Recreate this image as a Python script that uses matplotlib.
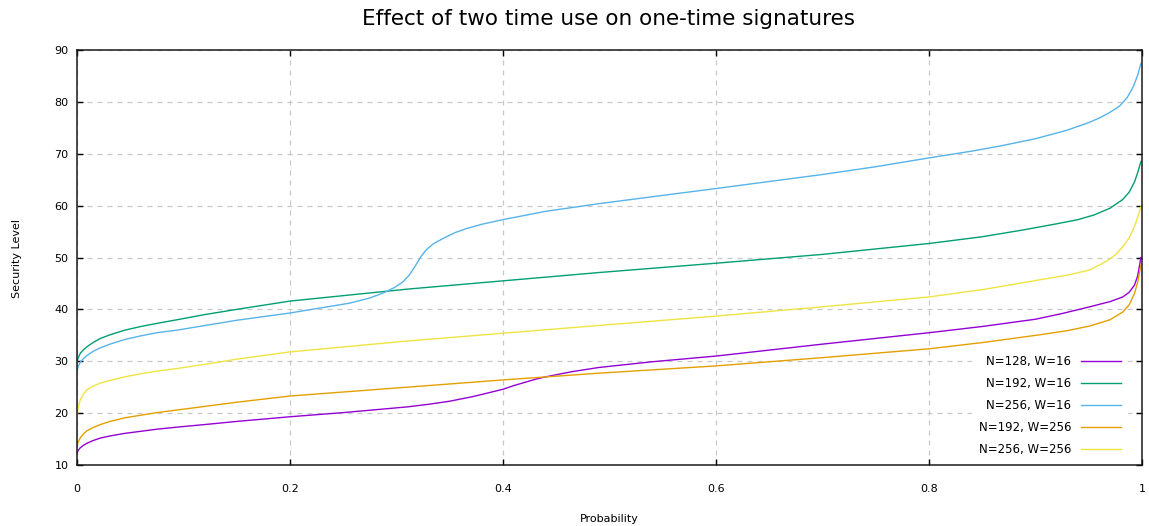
import matplotlib
matplotlib.use("Agg")
import matplotlib.pyplot as plt

# ---- data ----
p_n128_w16 = [0, 0.001, 0.003, 0.006, 0.0094, 0.015, 0.022, 0.031, 0.045, 0.06, 0.075, 0.094,
              0.12, 0.15, 0.2, 0.25, 0.31, 0.33, 0.35, 0.372, 0.39, 0.4, 0.41, 0.42, 0.43,
              0.438, 0.45, 0.465, 0.49, 0.54, 0.6, 0.7, 0.8, 0.85, 0.9, 0.925, 0.951, 0.97,
              0.982, 0.988, 0.993, 0.996, 0.999]
v_n128_w16 = [12.2, 12.8, 13.3, 13.8, 14.2, 14.7, 15.2, 15.6, 16.1, 16.5, 16.9, 17.3,
              17.8, 18.4, 19.3, 20.1, 21.2, 21.7, 22.3, 23.2, 24.1, 24.6, 25.3, 25.9, 26.5,
              26.9, 27.4, 28.0, 28.8, 29.9, 31.0, 33.3, 35.5, 36.7, 38.1, 39.2, 40.5, 41.5,
              42.4, 43.3, 44.7, 46.5, 50.0]

p_n192_w16 = [0, 0.001, 0.003, 0.006, 0.0094, 0.015, 0.022, 0.031, 0.045, 0.06, 0.075, 0.094,
              0.12, 0.15, 0.2, 0.31, 0.4, 0.49, 0.6, 0.7, 0.8, 0.85, 0.888, 0.92, 0.94, 0.955,
              0.97, 0.982, 0.988, 0.993, 0.996, 0.999]
v_n192_w16 = [29.8, 30.6, 31.5, 32.2, 32.8, 33.6, 34.4, 35.1, 36.0, 36.7, 37.3, 38.0,
              39.0, 40.0, 41.6, 43.9, 45.5, 47.1, 48.9, 50.6, 52.7, 54.0, 55.3, 56.5, 57.3,
              58.2, 59.5, 61.2, 62.6, 64.6, 66.4, 68.5]

p_n256_w16 = [0, 0.001, 0.003, 0.006, 0.0094, 0.015, 0.022, 0.031, 0.045, 0.06, 0.075, 0.094,
              0.15, 0.2, 0.256, 0.275, 0.288, 0.298, 0.306, 0.312, 0.318, 0.323, 0.328,
              0.335, 0.344, 0.355, 0.366, 0.38, 0.4, 0.44, 0.491, 0.6, 0.7, 0.75, 0.8, 0.84,
              0.867, 0.9, 0.929, 0.95, 0.961, 0.97, 0.979, 0.986, 0.992, 0.996, 0.999]
v_n256_w16 = [28.0, 28.9, 29.8, 30.5, 31.1, 31.9, 32.6, 33.3, 34.2, 34.9, 35.5, 36.0,
              37.9, 39.3, 41.2, 42.2, 43.2, 44.2, 45.3, 46.6, 48.5, 50.2, 51.5,
              52.7, 53.7, 54.8, 55.6, 56.4, 57.3, 58.9, 60.4, 63.3, 66.0, 67.5, 69.2, 70.5,
              71.5, 72.9, 74.5, 76.0, 77.0, 78.0, 79.2, 80.8, 83.0, 85.2, 87.4]

p_n192_w256 = [0, 0.001, 0.003, 0.006, 0.0094, 0.015, 0.022, 0.031, 0.045, 0.06, 0.075,
               0.094, 0.12, 0.15, 0.2, 0.31, 0.4, 0.49, 0.6, 0.7, 0.8, 0.85, 0.904, 0.93,
               0.951, 0.97, 0.982, 0.988, 0.993, 0.996, 0.999]
v_n192_w256 = [13.6, 14.4, 15.2, 16.0, 16.6, 17.2, 17.8, 18.4, 19.1, 19.6, 20.1,
               20.6, 21.3, 22.1, 23.3, 25.0, 26.4, 27.7, 29.1, 30.7, 32.4, 33.6, 35.1, 35.9,
               36.8, 38.0, 39.5, 40.9, 43.1, 45.3, 48.5]

p_n256_w256 = [0, 0.001, 0.003, 0.006, 0.0094, 0.015, 0.022, 0.031, 0.045, 0.06, 0.075,
               0.094, 0.12, 0.15, 0.2, 0.31, 0.4, 0.49, 0.6, 0.7, 0.8, 0.85, 0.904, 0.93,
               0.951, 0.967, 0.976, 0.982, 0.988, 0.993, 0.996, 0.999]
v_n256_w256 = [19.0, 21.0, 22.5, 23.7, 24.5, 25.2, 25.8, 26.3, 27.0, 27.6, 28.1,
               28.6, 29.4, 30.4, 31.8, 33.9, 35.4, 36.9, 38.7, 40.5, 42.4, 43.8, 45.7, 46.6,
               47.6, 49.3, 50.7, 52.1, 53.8, 56.0, 57.8, 59.8]

labels = ["N=128, W=16", "N=192, W=16", "N=256, W=16", "N=192, W=256", "N=256, W=256"]
colors = ["#9400d3", "#009e73", "#56b4e9", "#e69f00", "#f0e442"]
series = [(p_n128_w16, v_n128_w16), (p_n192_w16, v_n192_w16), (p_n256_w16, v_n256_w16),
          (p_n192_w256, v_n192_w256), (p_n256_w256, v_n256_w256)]

x_ticks = [0, 0.2, 0.4, 0.6, 0.8, 1]
x_ticklabels = ["0", "0.2", "0.4", "0.6", "0.8", "1"]
y_ticks = [10, 20, 30, 40, 50, 60, 70, 80, 90]

# ---- figure ----
plt.rcParams['font.family'] = ['DejaVu Sans']
fig = plt.figure(figsize=(11.49, 5.26), dpi=100)
ax = fig.add_axes([77 / 1149, 1 - 465 / 526, (1142 - 77) / 1149, (465 - 50) / 526])

for (px, py), lab, col in zip(series, labels, colors):
    ax.plot(px, py, color=col, lw=1.0, label=lab)

ax.set_xlim(0, 1)
ax.set_ylim(10, 90)
ax.set_xticks(x_ticks)
ax.set_xticklabels(x_ticklabels)
ax.set_yticks(y_ticks)
ax.tick_params(direction='in', length=4, width=1, top=True, right=True,
               labelsize=8, colors='black')
ax.tick_params(axis='x', pad=14)
ax.tick_params(axis='y', pad=6)
ax.grid(True, color='#c8c8c8', linestyle=(0, (4, 4)), linewidth=0.9)
for s in ax.spines.values():
    s.set_linewidth(1.1)
    s.set_color('#1a1a1a')

ax.set_xlabel("Probability", fontsize=8)
ax.set_ylabel("Security Level", fontsize=8)
ax.xaxis.set_label_coords((609 - 77) / 1065, -(519 - 465) / 415)
ax.yaxis.set_label_coords(-(77 - 17) / 1065, (465 - 258) / 415)
ax.xaxis.label.set_va('center')
ax.yaxis.label.set_va('center')
fig.text(609 / 1149, 1 - 19 / 526, "Effect of two time use on one-time signatures",
         ha='center', va='center', fontsize=15.5)

leg = ax.legend(loc='lower right', bbox_to_anchor=(1 - 14 / 1065, 2 / 415),
                markerfirst=False, frameon=True, fancybox=False, framealpha=1,
                facecolor='white', edgecolor='none', fontsize=8.5,
                handlelength=3.4, labelspacing=0.76, handletextpad=0.8,
                borderpad=0.6, borderaxespad=0)

fig.savefig("out.png", dpi=100)
